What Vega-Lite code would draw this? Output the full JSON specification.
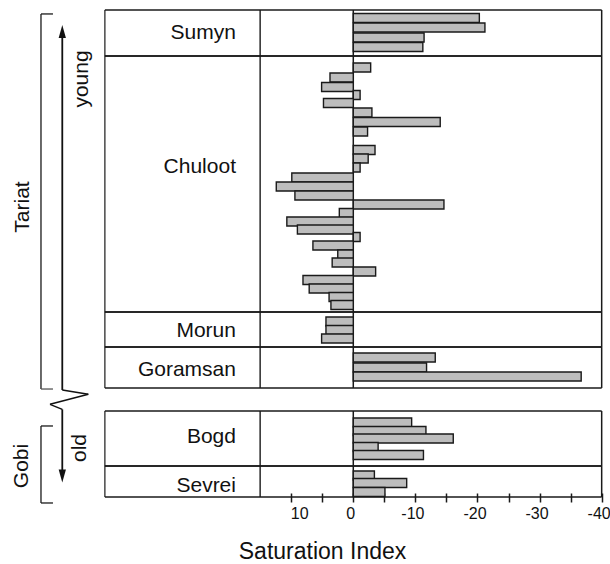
{
  "$schema": "https://vega.github.io/schema/vega-lite/v6.json",
  "width": 610,
  "height": 497,
  "padding": 0,
  "background": "white",
  "config": {"view": {"stroke": null}, "font": "Liberation Sans", "text": {"font": "Liberation Sans"}, "scale": {"continuousPadding": 0}},
  "datasets": {
    "bars": [
      {"section": "Sumyn", "level": 0.91, "si": -20.3},
      {"section": "Sumyn", "level": 1.99, "si": -21.2},
      {"section": "Sumyn", "level": 3.13, "si": -11.4},
      {"section": "Sumyn", "level": 4.20, "si": -11.2},
      {"section": "Chuloot", "level": 6.53, "si": -2.8},
      {"section": "Chuloot", "level": 7.67, "si": 3.75},
      {"section": "Chuloot", "level": 8.75, "si": 5.1},
      {"section": "Chuloot", "level": 9.66, "si": -1.1},
      {"section": "Chuloot", "level": 10.57, "si": 4.8},
      {"section": "Chuloot", "level": 11.65, "si": -3.0},
      {"section": "Chuloot", "level": 12.73, "si": -14.0},
      {"section": "Chuloot", "level": 13.81, "si": -2.3},
      {"section": "Chuloot", "level": 15.91, "si": -3.5},
      {"section": "Chuloot", "level": 16.88, "si": -2.4},
      {"section": "Chuloot", "level": 17.90, "si": -1.1},
      {"section": "Chuloot", "level": 19.03, "si": 9.9},
      {"section": "Chuloot", "level": 20.06, "si": 12.4},
      {"section": "Chuloot", "level": 21.08, "si": 9.4},
      {"section": "Chuloot", "level": 22.10, "si": -14.6},
      {"section": "Chuloot", "level": 23.07, "si": 2.25},
      {"section": "Chuloot", "level": 24.03, "si": 10.7},
      {"section": "Chuloot", "level": 24.94, "si": 9.0},
      {"section": "Chuloot", "level": 25.80, "si": -1.1},
      {"section": "Chuloot", "level": 26.76, "si": 6.5},
      {"section": "Chuloot", "level": 27.78, "si": 2.5},
      {"section": "Chuloot", "level": 28.69, "si": 3.4},
      {"section": "Chuloot", "level": 29.72, "si": -3.6},
      {"section": "Chuloot", "level": 30.68, "si": 8.1},
      {"section": "Chuloot", "level": 31.65, "si": 7.1},
      {"section": "Chuloot", "level": 32.61, "si": 3.9},
      {"section": "Chuloot", "level": 33.52, "si": 3.6},
      {"section": "Morun", "level": 35.40, "si": 4.4},
      {"section": "Morun", "level": 36.36, "si": 4.4},
      {"section": "Morun", "level": 37.33, "si": 5.1},
      {"section": "Goramsan", "level": 39.49, "si": -13.2},
      {"section": "Goramsan", "level": 40.63, "si": -11.8},
      {"section": "Goramsan", "level": 41.65, "si": -36.7},
      {"section": "Bogd", "level": 46.88, "si": -9.4},
      {"section": "Bogd", "level": 47.84, "si": -11.7},
      {"section": "Bogd", "level": 48.69, "si": -16.1},
      {"section": "Bogd", "level": 49.66, "si": -4.0},
      {"section": "Bogd", "level": 50.57, "si": -11.3},
      {"section": "Sevrei", "level": 52.90, "si": -3.4},
      {"section": "Sevrei", "level": 53.75, "si": -8.6},
      {"section": "Sevrei", "level": 54.77, "si": -5.1}
    ],
    "sections": [
      {"section": "Sumyn", "group": "Tariat", "top": 0, "bottom": 5.23, "labelLevel": 2.67},
      {"section": "Chuloot", "group": "Tariat", "top": 5.23, "bottom": 34.32, "labelLevel": 17.84},
      {"section": "Morun", "group": "Tariat", "top": 34.32, "bottom": 38.3, "labelLevel": 36.53},
      {"section": "Goramsan", "group": "Tariat", "top": 38.3, "bottom": 42.95, "labelLevel": 40.91},
      {"section": "Bogd", "group": "Gobi", "top": 45.57, "bottom": 51.82, "labelLevel": 48.47},
      {"section": "Sevrei", "group": "Gobi", "top": 51.82, "bottom": 55.34, "labelLevel": 54.09}
    ]
  },
  "data": {"values": [{}]},
  "layer": [
    {
      "data": {"name": "sections"},
      "mark": {"type": "rule", "stroke": "#1a1a1a", "strokeWidth": 1.6},
      "encoding": {"y": {"field": "top", "type": "quantitative", "scale": {"domain": [-1.136, 55.34], "reverse": true, "nice": false, "zero": false, "padding": 0}, "axis": null}, "x": {"datum": 40}, "x2": {"datum": -40}}
    },
    {
      "data": {"name": "sections"},
      "mark": {"type": "rule", "stroke": "#1a1a1a", "strokeWidth": 1.6},
      "encoding": {"y": {"field": "bottom", "type": "quantitative", "scale": {"domain": [-1.136, 55.34], "reverse": true, "nice": false, "zero": false, "padding": 0}, "axis": null}, "x": {"datum": 40}, "x2": {"datum": -40}}
    },
    {
      "data": {"name": "sections"},
      "mark": {"type": "rule", "stroke": "#1a1a1a", "strokeWidth": 1.2},
      "encoding": {"x": {"datum": 40}, "y": {"field": "top", "type": "quantitative", "scale": {"domain": [-1.136, 55.34], "reverse": true, "nice": false, "zero": false, "padding": 0}, "axis": null}, "y2": {"field": "bottom"}}
    },
    {
      "data": {"name": "sections"},
      "mark": {"type": "rule", "stroke": "#1a1a1a", "strokeWidth": 1.4},
      "encoding": {"x": {"datum": 15}, "y": {"field": "top", "type": "quantitative", "scale": {"domain": [-1.136, 55.34], "reverse": true, "nice": false, "zero": false, "padding": 0}, "axis": null}, "y2": {"field": "bottom"}}
    },
    {
      "data": {"name": "sections"},
      "mark": {"type": "rule", "stroke": "#1a1a1a", "strokeWidth": 1.5},
      "encoding": {"x": {"datum": 0}, "y": {"field": "top", "type": "quantitative", "scale": {"domain": [-1.136, 55.34], "reverse": true, "nice": false, "zero": false, "padding": 0}, "axis": null}, "y2": {"field": "bottom"}}
    },
    {
      "data": {"name": "sections"},
      "mark": {"type": "rule", "stroke": "#1a1a1a", "strokeWidth": 1.5},
      "encoding": {"x": {"datum": -40}, "y": {"field": "top", "type": "quantitative", "scale": {"domain": [-1.136, 55.34], "reverse": true, "nice": false, "zero": false, "padding": 0}, "axis": null}, "y2": {"field": "bottom"}}
    },
    {
      "data": {"name": "bars"},
      "mark": {"type": "bar", "orient": "horizontal", "height": 9, "fill": "#bdbdbd", "stroke": "#1a1a1a", "strokeWidth": 1.4},
      "encoding": {
        "y": {"field": "level", "type": "quantitative", "scale": {"domain": [-1.136, 55.34], "reverse": true, "nice": false, "zero": false, "padding": 0}, "axis": null},
        "x": {"field": "si", "type": "quantitative", "scale": {"domain": [-41.34, 56.89], "reverse": true, "nice": false, "zero": false, "padding": 0},
          "axis": {
            "values": [10, 5, 0, -5, -10, -15, -20, -25, -30, -35, -40],
            "labelExpr": "datum.value % 10 === 0 ? '' + datum.value : ''",
            "domain": false, "grid": false, "offset": -4,
            "tickSize": 9, "tickWidth": 1.5, "tickColor": "#1a1a1a",
            "labelFont": "Liberation Sans", "labelFontSize": 16, "labelColor": "#111", "labelPadding": 3,
            "labelOffset": {"condition": {"test": "datum.value > 0", "value": 8}, "value": -3},
            "title": "Saturation Index", "titleFont": "Liberation Sans", "titleFontSize": 23, "titleFontWeight": "normal", "titleColor": "#111",
            "titleX": 322, "titleY": 65, "titleBaseline": "alphabetic", "titleAnchor": "middle", "titleAlign": "center"
          }},
        "x2": {"datum": 0}
      }
    },
    {
      "data": {"name": "sections"},
      "mark": {"type": "text", "align": "right", "baseline": "middle", "fontSize": 21, "font": "Liberation Sans", "color": "#111"},
      "encoding": {"x": {"datum": 18.89}, "y": {"field": "labelLevel", "type": "quantitative", "scale": {"domain": [-1.136, 55.34], "reverse": true, "nice": false, "zero": false, "padding": 0}, "axis": null}, "text": {"field": "section"}}
    },
    {
      "mark": {"type": "rule", "stroke": "#1a1a1a", "strokeWidth": 1.3},
      "encoding": {"x": {"datum": 50.29}, "y": {"datum": 0.45, "scale": {"domain": [-1.136, 55.34], "reverse": true, "nice": false, "zero": false, "padding": 0}, "axis": null}, "y2": {"datum": 43.07}}
    },
    {
      "mark": {"type": "rule", "stroke": "#1a1a1a", "strokeWidth": 1.3},
      "encoding": {"x": {"datum": 50.29}, "x2": {"datum": 48.36}, "y": {"datum": 0.45, "scale": {"domain": [-1.136, 55.34], "reverse": true, "nice": false, "zero": false, "padding": 0}, "axis": null}}
    },
    {
      "mark": {"type": "rule", "stroke": "#555", "strokeWidth": 1.3},
      "encoding": {"x": {"datum": 50.29}, "x2": {"datum": 48.36}, "y": {"datum": 43.07, "scale": {"domain": [-1.136, 55.34], "reverse": true, "nice": false, "zero": false, "padding": 0}, "axis": null}}
    },
    {
      "mark": {"type": "rule", "stroke": "#1a1a1a", "strokeWidth": 1.3},
      "encoding": {"x": {"datum": 50.29}, "y": {"datum": 47.27, "scale": {"domain": [-1.136, 55.34], "reverse": true, "nice": false, "zero": false, "padding": 0}, "axis": null}, "y2": {"datum": 56.02}}
    },
    {
      "mark": {"type": "rule", "stroke": "#1a1a1a", "strokeWidth": 1.3},
      "encoding": {"x": {"datum": 50.29}, "x2": {"datum": 48.36}, "y": {"datum": 47.27, "scale": {"domain": [-1.136, 55.34], "reverse": true, "nice": false, "zero": false, "padding": 0}, "axis": null}}
    },
    {
      "mark": {"type": "rule", "stroke": "#1a1a1a", "strokeWidth": 1.3},
      "encoding": {"x": {"datum": 50.29}, "x2": {"datum": 48.36}, "y": {"datum": 56.02, "scale": {"domain": [-1.136, 55.34], "reverse": true, "nice": false, "zero": false, "padding": 0}, "axis": null}}
    },
    {
      "mark": {"type": "rule", "stroke": "#111", "strokeWidth": 1.8},
      "encoding": {"x": {"datum": 46.86}, "y": {"datum": 43.18, "scale": {"domain": [-1.136, 55.34], "reverse": true, "nice": false, "zero": false, "padding": 0}, "axis": null}, "y2": {"datum": 2.44}}
    },
    {
      "mark": {"type": "rule", "stroke": "#111", "strokeWidth": 1.5},
      "encoding": {"x": {"datum": 46.86}, "y": {"datum": 43.18, "scale": {"domain": [-1.136, 55.34], "reverse": true, "nice": false, "zero": false, "padding": 0}, "axis": null}, "x2": {"datum": 42.67}, "y2": {"datum": 43.67}}
    },
    {
      "mark": {"type": "rule", "stroke": "#111", "strokeWidth": 1.5},
      "encoding": {"x": {"datum": 42.67}, "y": {"datum": 43.67, "scale": {"domain": [-1.136, 55.34], "reverse": true, "nice": false, "zero": false, "padding": 0}, "axis": null}, "x2": {"datum": 48.84}, "y2": {"datum": 44.81}}
    },
    {
      "mark": {"type": "rule", "stroke": "#111", "strokeWidth": 1.5},
      "encoding": {"x": {"datum": 48.84}, "y": {"datum": 44.81, "scale": {"domain": [-1.136, 55.34], "reverse": true, "nice": false, "zero": false, "padding": 0}, "axis": null}, "x2": {"datum": 46.86}, "y2": {"datum": 45.38}}
    },
    {
      "mark": {"type": "rule", "stroke": "#111", "strokeWidth": 1.8},
      "encoding": {"x": {"datum": 46.86}, "y": {"datum": 45.38, "scale": {"domain": [-1.136, 55.34], "reverse": true, "nice": false, "zero": false, "padding": 0}, "axis": null}, "y2": {"datum": 52.95}}
    },
    {
      "mark": {"type": "point", "shape": "M0,-1L0.56,1L-0.56,1Z", "size": 169, "filled": true, "color": "#111", "opacity": 1},
      "encoding": {"x": {"datum": 46.86}, "y": {"datum": 2.44, "scale": {"domain": [-1.136, 55.34], "reverse": true, "nice": false, "zero": false, "padding": 0}, "axis": null}}
    },
    {
      "mark": {"type": "point", "shape": "M0,1L0.56,-1L-0.56,-1Z", "size": 169, "filled": true, "color": "#111", "opacity": 1},
      "encoding": {"x": {"datum": 46.86}, "y": {"datum": 52.95, "scale": {"domain": [-1.136, 55.34], "reverse": true, "nice": false, "zero": false, "padding": 0}, "axis": null}}
    },
    {
      "mark": {"type": "text", "text": "Tariat", "angle": 270, "align": "center", "baseline": "middle", "fontSize": 21, "font": "Liberation Sans", "color": "#111"},
      "encoding": {"x": {"datum": 53.19}, "y": {"datum": 22.39, "scale": {"domain": [-1.136, 55.34], "reverse": true, "nice": false, "zero": false, "padding": 0}, "axis": null}}
    },
    {
      "mark": {"type": "text", "text": "young", "angle": 270, "align": "center", "baseline": "middle", "fontSize": 21, "font": "Liberation Sans", "color": "#111"},
      "encoding": {"x": {"datum": 43.61}, "y": {"datum": 7.84, "scale": {"domain": [-1.136, 55.34], "reverse": true, "nice": false, "zero": false, "padding": 0}, "axis": null}}
    },
    {
      "mark": {"type": "text", "text": "Gobi", "angle": 270, "align": "center", "baseline": "middle", "fontSize": 21, "font": "Liberation Sans", "color": "#111"},
      "encoding": {"x": {"datum": 53.27}, "y": {"datum": 51.82, "scale": {"domain": [-1.136, 55.34], "reverse": true, "nice": false, "zero": false, "padding": 0}, "axis": null}}
    },
    {
      "mark": {"type": "text", "text": "old", "angle": 270, "align": "center", "baseline": "middle", "fontSize": 21, "font": "Liberation Sans", "color": "#111"},
      "encoding": {"x": {"datum": 44.01}, "y": {"datum": 49.77, "scale": {"domain": [-1.136, 55.34], "reverse": true, "nice": false, "zero": false, "padding": 0}, "axis": null}}
    }
  ]
}
